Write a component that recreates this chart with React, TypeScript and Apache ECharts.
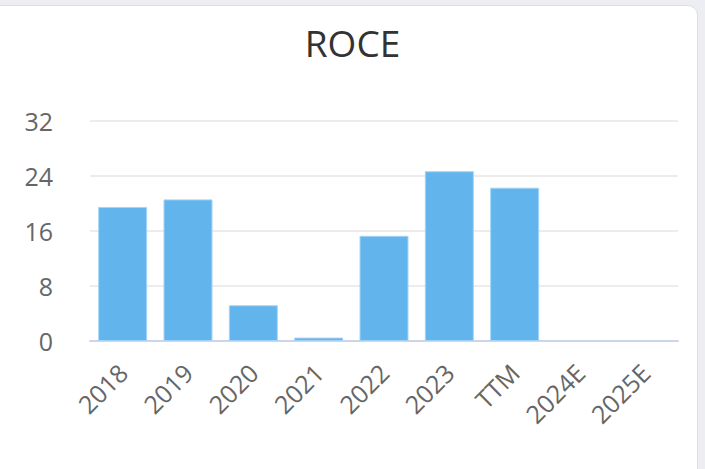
import React, { useEffect, useRef } from "react";
import * as echarts from "echarts";

const categories = ["2018", "2019", "2020", "2021", "2022", "2023", "TTM", "2024E", "2025E"];
const roceValues: (number | null)[] = [19.5, 20.6, 5.2, 0.5, 15.3, 24.7, 22.3, null, null];
const yTicks = { min: 0, max: 32, interval: 8 };

export default function App() {
  const ref = useRef<HTMLDivElement>(null);
  useEffect(() => {
    if (!ref.current) return;
    const chart = echarts.init(ref.current, null, { renderer: "svg" });
    chart.setOption({
      animation: false,
      title: {
        text: "ROCE",
        left: "center",
        top: 19,
        textStyle: { fontFamily: "Open Sans", fontSize: 37, fontWeight: "normal", color: "#333333" },
      },
      grid: { left: 90, right: 27, top: 121, bottom: 128, containLabel: false },
      xAxis: {
        type: "category",
        data: categories,
        axisLine: { show: true, lineStyle: { color: "#ccd6eb", width: 2 } },
        axisTick: { show: false },
        axisLabel: {
          rotate: 45,
          margin: 27,
          interval: 0,
          fontFamily: "Open Sans",
          fontSize: 25,
          color: "#666666",
        },
      },
      yAxis: {
        type: "value",
        min: yTicks.min,
        max: yTicks.max,
        interval: yTicks.interval,
        axisLine: { show: false },
        axisTick: { show: false },
        splitLine: { lineStyle: { color: "#e6e6e6", width: 1.5 } },
        axisLabel: { margin: 37, fontFamily: "Open Sans", fontSize: 25, color: "#666666" },
      },
      series: [
        {
          type: "bar",
          data: roceValues,
          barCategoryGap: "25%",
          itemStyle: { color: "#62b5ec", borderColor: "#a6d3f5", borderWidth: 1 },
        },
      ],
    });
    return () => chart.dispose();
  }, []);

  return (
    <div style={{ position: "fixed", left: 0, top: 0, width: 705, height: 469, background: "#eceef1", overflow: "hidden" }}>
      <div
        style={{
          position: "absolute",
          left: -12,
          top: 5,
          width: 708,
          height: 490,
          background: "#ffffff",
          border: "1px solid #dcdee2",
          borderRadius: 10,
        }}
      />
      <div ref={ref} style={{ position: "absolute", left: 0, top: 0, width: 705, height: 469 }} />
    </div>
  );
}
